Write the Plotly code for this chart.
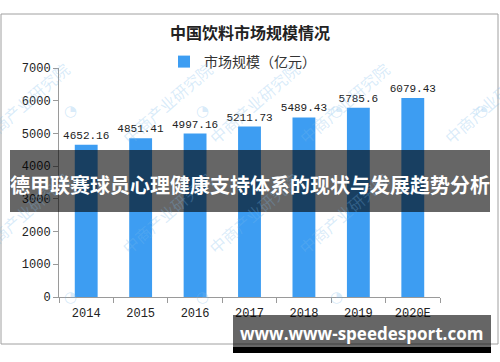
import plotly.graph_objects as go

years = ["2014", "2015", "2016", "2017", "2018", "2019", "2020E"]
values = [4652.16, 4851.41, 4997.16, 5211.73, 5489.43, 5785.6, 6079.43]
labels = ["4652.16", "4851.41", "4997.16", "5211.73", "5489.43", "5785.6", "6079.43"]
series_name = "市场规模（亿元）"
chart_title = "中国饮料市场规模情况"
banner_text = "德甲联赛球员心理健康支持体系的现状与发展趋势分析"
footer_text = "www.www-speedesport.com"
watermark_text = "中商产业研究院"

W, H = 500, 362
L, R, T, B = 59, 440, 68, 297  # plot area in px


def px(x):
    return (x - L) / (R - L)


def py(y):
    return (B - y) / (B - T)


mono = "Liberation Mono, DejaVu Sans Mono, monospace"
cjk = "Noto Sans CJK SC, sans-serif"

fig = go.Figure()
fig.add_trace(go.Bar(
    x=years, y=values, name=series_name,
    marker=dict(color="#3D9DF2", line=dict(width=0)),
    text=labels, textposition="outside", cliponaxis=False, constraintext="none",
    textfont=dict(family=mono, size=11, color="#222"),
    showlegend=True,
))

shapes = [
    dict(type="rect", xref="paper", yref="paper", x0=px(1), x1=px(498), y0=py(344), y1=py(14),
         line=dict(color="#A0A0A0", width=1), fillcolor="rgba(0,0,0,0)", layer="below"),
    dict(type="rect", xref="paper", yref="paper", x0=px(10), x1=px(490), y0=py(212), y1=py(150),
         line=dict(width=0), fillcolor="rgba(0,0,0,0.6)", layer="above"),
    dict(type="rect", xref="paper", yref="paper", x0=px(233), x1=px(491), y0=py(347), y1=py(315),
         line=dict(width=0), fillcolor="rgba(0,0,0,0.6)", layer="above"),
    dict(type="rect", xref="paper", yref="paper", x0=px(233), x1=px(491), y0=py(353), y1=py(347),
         line=dict(width=0), fillcolor="#000000", layer="above"),
]

annotations = []
for (lx, ly) in [(-81, 100), (62, 100), (202, 100), (345, 100), (490, 100),
                 (-81, 308), (62, 308), (202, 308), (345, 308)]:
    annotations.append(dict(
        x=px(lx + 52), y=py(ly - 46), xref="paper", yref="paper", text=watermark_text,
        showarrow=False, textangle=-41, font=dict(family=cjk, size=16, color="rgba(120,185,235,0.28)"),
    ))
    annotations.append(dict(
        x=px(lx), y=py(ly), xref="paper", yref="paper", text="◔",
        showarrow=False, font=dict(family="DejaVu Sans", size=15, color="rgba(120,185,235,0.3)"),
    ))

annotations += [
    dict(x=px(250), y=py(184), xref="paper", yref="paper", text="<b>" + banner_text + "</b>", showarrow=False,
         font=dict(family=cjk, size=20, color="white"), xanchor="center", yanchor="middle"),
    dict(x=px(361), y=py(333), xref="paper", yref="paper", text="<b>" + footer_text + "</b>", showarrow=False,
         font=dict(family="Open Sans, Noto Sans, sans-serif", size=17, color="white"),
         xanchor="center", yanchor="middle"),
]

fig.update_layout(
    width=W, height=H,
    margin=dict(l=L, r=W - R, t=T, b=H - B, autoexpand=False),
    paper_bgcolor="white", plot_bgcolor="white",
    bargap=0.58,
    title=dict(text="<b>" + chart_title + "</b>", x=0.5, xanchor="center", y=1 - 33 / H, yanchor="middle",
               font=dict(family=cjk, size=16, color="#222")),
    legend=dict(orientation="h", x=px(164), xanchor="left", y=py(62), yanchor="middle",
                font=dict(family=cjk, size=14, color="#333"), bgcolor="rgba(0,0,0,0)"),
    xaxis=dict(type="category", showline=True, linecolor="#9A9A9A", linewidth=1,
               ticks="outside", tickson="boundaries", ticklen=5, tickcolor="#9A9A9A",
               ticklabelstandoff=5,
               tickfont=dict(family=mono, size=12, color="#222"), showgrid=False),
    yaxis=dict(range=[0, 7000], dtick=1000, showline=True, linecolor="#9A9A9A", linewidth=1,
               ticks="outside", ticklen=5, tickcolor="#9A9A9A", showgrid=False, zeroline=False,
               tickfont=dict(family=mono, size=12, color="#222")),
    shapes=shapes, annotations=annotations,
)

fig.write_html("out.html", config={"displayModeBar": False},
               post_script="document.body.style.margin='0';document.body.style.padding='0';document.body.style.overflow='hidden';")
